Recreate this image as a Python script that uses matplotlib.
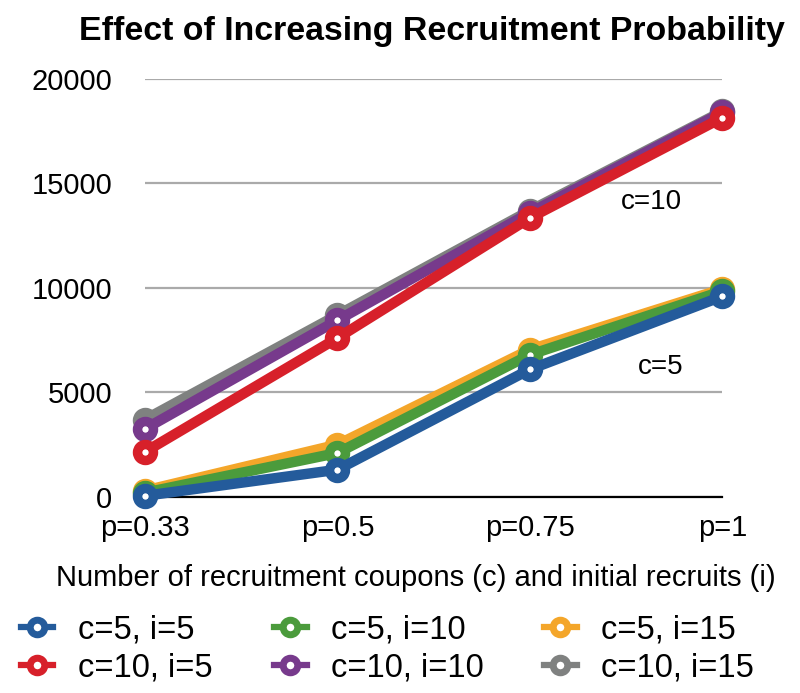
import matplotlib

matplotlib.use("Agg")
import matplotlib.pyplot as plt
from matplotlib.lines import Line2D

plt.rcParams["font.family"] = ["Liberation Sans", "DejaVu Sans"]

categories = ["p=0.33", "p=0.5", "p=0.75", "p=1"]
labels = ["c=5, i=5", "c=5, i=10", "c=5, i=15", "c=10, i=5", "c=10, i=10", "c=10, i=15"]
c5_i5 = [50, 1300, 6100, 9600]
c5_i10 = [200, 2100, 6800, 9850]
c5_i15 = [300, 2500, 7050, 9950]
c10_i5 = [2150, 7600, 13350, 18150]
c10_i10 = [3250, 8450, 13600, 18400]
c10_i15 = [3700, 8700, 13700, 18450]
series = [c5_i5, c5_i10, c5_i15, c10_i5, c10_i10, c10_i15]
colors = ["#245b9b", "#4b9b3c", "#f4a62a", "#d7202a", "#773a8c", "#7f8180"]
zorders = [6, 5, 4, 9, 8, 7]

fig = plt.figure(figsize=(8, 6.93), dpi=100)
ax = fig.add_axes([0.181, 0.283, 0.722, 0.603])

x = range(len(categories))
for vals, col, lab, z in zip(series, colors, labels, zorders):
    ax.plot(x, vals, color=col, lw=7.5, marker="o", ms=11.5, mfc="white",
            mec=col, mew=6.8, label=lab, zorder=z, solid_capstyle="round",
            clip_on=False)

ax.set_xlim(0, 3)
ax.set_ylim(0, 20000)
ax.set_yticks([0, 5000, 10000, 15000, 20000])
ax.set_xticks(list(x))
ax.set_xticklabels(categories)
ax.tick_params(axis="both", length=0, labelsize=21)
ax.tick_params(axis="y", pad=23.5)
ax.tick_params(axis="x", pad=12)
ax.grid(axis="y", color="#aaaaaa", lw=1.6)
ax.set_axisbelow(True)
for s in ["left", "right", "top"]:
    ax.spines[s].set_visible(False)
ax.spines["bottom"].set_linewidth(1.6)
ax.spines["bottom"].set_zorder(2)

ax.text(2.63, 14100, "c=10", fontsize=20, ha="center", va="center")
ax.text(2.68, 6220, "c=5", fontsize=20, ha="center", va="center")

fig.text(0.54, 0.955, "Effect of Increasing Recruitment Probability",
         fontsize=24.4, fontweight="bold", ha="center", va="center")
fig.text(0.52, 0.166, "Number of recruitment coupons (c) and initial recruits (i)",
         fontsize=21, ha="center", va="center")

handles = [Line2D([0], [0], color=c, lw=4.5, marker="o", ms=10.5, mfc="white",
                  mec=c, mew=5) for c in colors]
# three two-row legend columns, placed like the original
for k, x0 in enumerate([0.026, 0.3425, 0.68]):
    leg = fig.legend([handles[k], handles[k + 3]], [labels[k], labels[k + 3]],
                     loc="center left", bbox_to_anchor=(x0, 0.0635),
                     frameon=False, fontsize=23.5, handlelength=1.0,
                     handletextpad=0.75, labelspacing=0.2, borderpad=0,
                     borderaxespad=0)

fig.savefig("out.png", dpi=100)
